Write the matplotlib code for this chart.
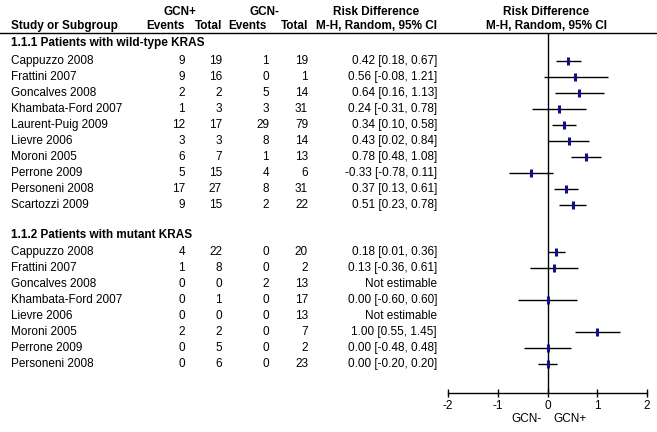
import numpy as np
import matplotlib
matplotlib.use("Agg")
import matplotlib.pyplot as plt

plt.rcParams['font.family'] = ['Liberation Sans', 'DejaVu Sans']

# ---- data ----
wt_studies = ["Cappuzzo 2008", "Frattini 2007", "Goncalves 2008", "Khambata-Ford 2007",
              "Laurent-Puig 2009", "Lievre 2006", "Moroni 2005", "Perrone 2009",
              "Personeni 2008", "Scartozzi 2009"]
wt_ev_pos = [9, 9, 2, 1, 12, 3, 6, 5, 17, 9]
wt_tot_pos = [19, 16, 2, 3, 17, 3, 7, 15, 27, 15]
wt_ev_neg = [1, 0, 5, 3, 29, 8, 1, 4, 8, 2]
wt_tot_neg = [19, 1, 14, 31, 79, 14, 13, 6, 31, 22]
wt_rd = [0.42, 0.56, 0.64, 0.24, 0.34, 0.43, 0.78, -0.33, 0.37, 0.51]
wt_lo = [0.18, -0.08, 0.16, -0.31, 0.10, 0.02, 0.48, -0.78, 0.13, 0.23]
wt_hi = [0.67, 1.21, 1.13, 0.78, 0.58, 0.84, 1.08, 0.11, 0.61, 0.78]

mut_studies = ["Cappuzzo 2008", "Frattini 2007", "Goncalves 2008", "Khambata-Ford 2007",
               "Lievre 2006", "Moroni 2005", "Perrone 2009", "Personeni 2008"]
mut_ev_pos = [4, 1, 0, 0, 0, 2, 0, 0]
mut_tot_pos = [22, 8, 0, 1, 0, 2, 5, 6]
mut_ev_neg = [0, 0, 2, 0, 0, 0, 0, 0]
mut_tot_neg = [20, 2, 13, 17, 13, 7, 2, 23]
mut_rd = [0.18, 0.13, None, 0.00, None, 1.00, 0.00, 0.00]
mut_lo = [0.01, -0.36, None, -0.60, None, 0.55, -0.48, -0.20]
mut_hi = [0.36, 0.61, None, 0.60, None, 1.45, 0.48, 0.20]

ticks = [-2, -1, 0, 1, 2]

# ---- layout (pixels) ----
W, H = 657, 432
ROW = 16
line_y = 33
axis_y = 393
wt_head_y, wt_start = 43, 61
mut_head_y, mut_start = 235, 252
col_name = 11
col_ep, col_tp, col_en, col_tn, col_rd = 185, 222, 269, 308, 437
fs = 8.5
blue = '#10108a'

fig = plt.figure(figsize=(W / 100, H / 100), dpi=100)

# forest axes
ax = fig.add_axes([448 / W, (H - axis_y) / H, 199 / W, (axis_y - line_y) / H])
ax.set_xlim(-2, 2)
ax.set_ylim(axis_y, line_y)
for s in ['top', 'left', 'right']:
    ax.spines[s].set_visible(False)
ax.spines['bottom'].set_linewidth(1)
ax.set_yticks([])
ax.set_xticks(ticks)
ax.set_xticklabels([str(t) for t in ticks], fontsize=fs)
ax.tick_params(axis='x', direction='inout', length=5.5, width=1, pad=2)
ax.axvline(0, color='black', lw=1)
ax.patch.set_visible(False)


def draw_group(start, studies, ep, tp, en, tn, rd, lo, hi):
    for i, name in enumerate(studies):
        y = start + i * ROW
        tx.text(col_name, y, name, fontsize=fs, va='center', ha='left')
        tx.text(col_ep, y, str(ep[i]), fontsize=fs, va='center', ha='right')
        tx.text(col_tp, y, str(tp[i]), fontsize=fs, va='center', ha='right')
        tx.text(col_en, y, str(en[i]), fontsize=fs, va='center', ha='right')
        tx.text(col_tn, y, str(tn[i]), fontsize=fs, va='center', ha='right')
        if rd[i] is None:
            tx.text(col_rd, y, "Not estimable", fontsize=fs, va='center', ha='right')
            continue
        tx.text(col_rd, y, f"{rd[i]:.2f} [{lo[i]:.2f}, {hi[i]:.2f}]",
                fontsize=fs, va='center', ha='right')
        ax.plot([lo[i], hi[i]], [y, y], color='black', lw=1, solid_capstyle='butt')
        ax.plot([rd[i]], [y], marker='|', color=blue, markersize=6, mew=2.2)


# text overlay
tx = fig.add_axes([0, 0, 1, 1])
tx.set_xlim(0, W)
tx.set_ylim(H, 0)
tx.axis('off')

bold = dict(fontsize=fs, fontweight='bold', va='center')
tx.text(180, 12, "GCN+", ha='center', **bold)
tx.text(265, 12, "GCN-", ha='center', **bold)
tx.text(376, 12, "Risk Difference", ha='center', **bold)
tx.text(546, 12, "Risk Difference", ha='center', **bold)
tx.text(col_name, 26, "Study or Subgroup", ha='left', **bold)
tx.text(col_ep, 26, "Events", ha='right', **bold)
tx.text(col_tp, 26, "Total", ha='right', **bold)
tx.text(267, 26, "Events", ha='right', **bold)
tx.text(col_tn, 26, "Total", ha='right', **bold)
tx.text(377, 26, "M-H, Random, 95% CI", ha='center', **bold)
tx.text(546, 26, "M-H, Random, 95% CI", ha='center', **bold)
tx.plot([0, W], [line_y, line_y], color='black', lw=1)

tx.text(col_name, wt_head_y, "1.1.1 Patients with wild-type KRAS", ha='left', **bold)
tx.text(col_name, mut_head_y, "1.1.2 Patients with mutant KRAS", ha='left', **bold)

draw_group(wt_start, wt_studies, wt_ev_pos, wt_tot_pos, wt_ev_neg, wt_tot_neg,
           wt_rd, wt_lo, wt_hi)
draw_group(mut_start, mut_studies, mut_ev_pos, mut_tot_pos, mut_ev_neg, mut_tot_neg,
           mut_rd, mut_lo, mut_hi)

tx.text(542, 419, "GCN-", fontsize=fs, va='center', ha='right')
tx.text(553, 419, "GCN+", fontsize=fs, va='center', ha='left')

fig.savefig("out.png", dpi=100)
